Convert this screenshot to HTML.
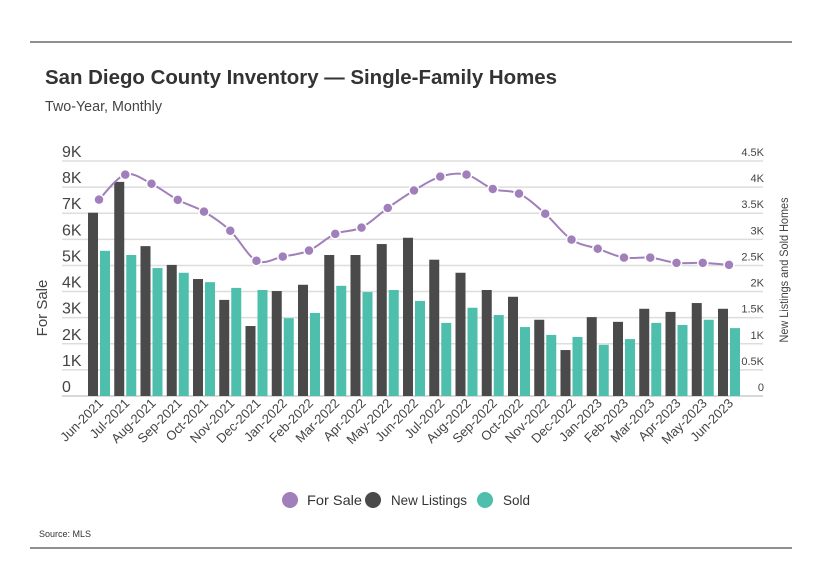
<!DOCTYPE html>
<html><head><meta charset="utf-8"><style>
html,body{margin:0;padding:0;background:#fff;}
svg{display:block;font-family:"Liberation Sans",sans-serif;}
</style></head><body>
<svg id="chart" width="818" height="587" viewBox="0 0 818 587">
<line x1="30" y1="42" x2="792" y2="42" stroke="#222" stroke-width="1"/>
<line x1="30" y1="548" x2="792" y2="548" stroke="#222" stroke-width="1"/>
<text x="45" y="84" font-size="20" font-weight="bold" fill="#333" textLength="512" lengthAdjust="spacingAndGlyphs">San Diego County Inventory — Single-Family Homes</text>
<text x="45" y="111" font-size="15" fill="#444" textLength="117" lengthAdjust="spacingAndGlyphs">Two-Year, Monthly</text>
<g id="grid"></g><g id="axes"></g><g id="bars"></g><g id="line"></g><g id="xlabels"></g>
<text transform="translate(47,308) rotate(-90)" text-anchor="middle" font-size="15" fill="#444">For Sale</text>
<text transform="translate(788,270) rotate(-90)" text-anchor="middle" font-size="12" fill="#444" textLength="145" lengthAdjust="spacingAndGlyphs">New Listings and Sold Homes</text>
<g>
<circle cx="290" cy="500" r="8" fill="#a07fbb"/>
<text x="307" y="505" font-size="14" fill="#333" textLength="55" lengthAdjust="spacingAndGlyphs">For Sale</text>
<circle cx="373" cy="500" r="8" fill="#4a4a4a"/>
<text x="391" y="505" font-size="14" fill="#333" textLength="76" lengthAdjust="spacingAndGlyphs">New Listings</text>
<circle cx="485" cy="500" r="8" fill="#4dbfac"/>
<text x="503" y="505" font-size="14" fill="#333" textLength="27" lengthAdjust="spacingAndGlyphs">Sold</text>
</g>
<text x="39" y="537" font-size="9" fill="#333">Source: MLS</text>
</svg>
<script>
const categories=["Jun-2021","Jul-2021","Aug-2021","Sep-2021","Oct-2021","Nov-2021","Dec-2021","Jan-2022","Feb-2022","Mar-2022","Apr-2022","May-2022","Jun-2022","Jul-2022","Aug-2022","Sep-2022","Oct-2022","Nov-2022","Dec-2022","Jan-2023","Feb-2023","Mar-2023","Apr-2023","May-2023","Jun-2023"];
const forSale=[7520,8480,8130,7510,7060,6330,5180,5340,5570,6210,6450,7200,7870,8400,8480,7930,7750,6980,5990,5640,5300,5300,5100,5100,5020];
const newListings=[3510,4100,2870,2510,2240,1840,1340,2010,2130,2700,2700,2910,3030,2610,2360,2030,1900,1460,880,1510,1420,1670,1610,1780,1670];
const sold=[2780,2700,2450,2360,2180,2070,2030,1490,1590,2110,1990,2030,1820,1400,1690,1550,1320,1170,1130,980,1090,1400,1360,1460,1300];
const leftTicks=["0","1K","2K","3K","4K","5K","6K","7K","8K","9K"];
const rightTicks=["0","0.5K","1K","1.5K","2K","2.5K","3K","3.5K","4K","4.5K"];
const NS="http://www.w3.org/2000/svg";
const x0=62,x1=763,y0=396,yTop=161;
const yL=v=>y0-(v/9000)*(y0-yTop);
const yR=v=>y0-(v/4500)*(y0-yTop);
const step=26.25;
const xC=i=>99+i*step;
function mk(tag,attrs,parent){const e=document.createElementNS(NS,tag);for(const k in attrs)e.setAttribute(k,attrs[k]);document.getElementById(parent).appendChild(e);return e;}
for(let i=0;i<leftTicks.length;i++){
  const y=yL(i*1000);
  const g=mk("line",{x1:x0,x2:x1,y1:y,y2:y,stroke:i===0?"#ccc":"#ddd","stroke-width":1.5},"grid");
  
  
  const t=mk("text",{x:62,y:y-4,"font-size":16,fill:"#444","text-anchor":"start"},"axes");
  t.textContent=leftTicks[i];
  
  
  const r=mk("text",{x:764,y:y-5,"font-size":11,fill:"#444","text-anchor":"end"},"axes");
  r.textContent=rightTicks[i];
  
  
}
categories.forEach((c,i)=>{
  const cx=xC(i);
  const b1=mk("rect",{x:cx-11,y:yR(newListings[i]),width:10,height:y0-yR(newListings[i]),fill:"#4a4a4a"},"bars");
  
  
  const b2=mk("rect",{x:cx+1,y:yR(sold[i]),width:10,height:y0-yR(sold[i]),fill:"#4dbfac"},"bars");
  
  
  const t=mk("text",{transform:`translate(${cx+5},404) rotate(-45)`,"text-anchor":"end","font-size":13,fill:"#444"},"xlabels");
  t.textContent=c;
  
  
});
const pts=forSale.map((v,i)=>[xC(i),yL(v)]);
let d=`M${pts[0][0]},${pts[0][1]}`;
for(let i=0;i<pts.length-1;i++){
  const p0=pts[Math.max(0,i-1)],p1=pts[i],p2=pts[i+1],p3=pts[Math.min(pts.length-1,i+2)];
  const c1=[p1[0]+(p2[0]-p0[0])/6,p1[1]+(p2[1]-p0[1])/6],c2=[p2[0]-(p3[0]-p1[0])/6,p2[1]-(p3[1]-p1[1])/6];
  d+=` C${c1[0]},${c1[1]} ${c2[0]},${c2[1]} ${p2[0]},${p2[1]}`;
}
const path=mk("path",{d:d,fill:"none",stroke:"#a07fbb","stroke-width":2},"line");


pts.forEach(p=>{
  const c=mk("circle",{cx:p[0],cy:p[1],r:5,fill:"#a07fbb",stroke:"#fff","stroke-width":1.5},"line");
  
  
});
</script>
</body></html>
